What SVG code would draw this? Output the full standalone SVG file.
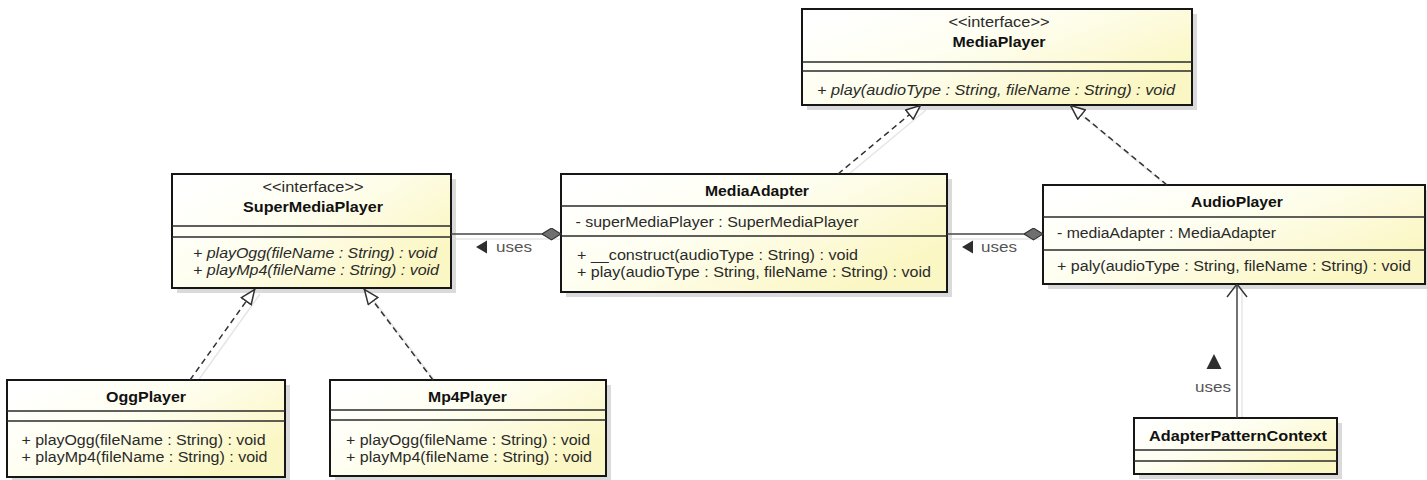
<svg xmlns="http://www.w3.org/2000/svg" width="1427" height="480" viewBox="0 0 1427 480">
  <defs>
    <linearGradient id="boxFill" x1="0.1" y1="0" x2="1" y2="0.6">
      <stop offset="0" stop-color="#ffffff"/>
      <stop offset="0.45" stop-color="#fefef0"/>
      <stop offset="1" stop-color="#fbf7c4"/>
    </linearGradient>
    <marker id="realize" viewBox="0 0 16 14" refX="16" refY="7" markerWidth="16" markerHeight="14" markerUnits="userSpaceOnUse" orient="auto">
      <path d="M1,1 L15.3,7 L1,13 Z" fill="#ffffff" stroke="#333333" stroke-width="1.5" stroke-dasharray="none"/>
    </marker>
    <marker id="diamond" viewBox="0 0 20 13" refX="19.5" refY="6.5" markerWidth="20" markerHeight="13" markerUnits="userSpaceOnUse" orient="auto">
      <path d="M0.5,6.5 L10,0.6 L19.5,6.5 L10,12.4 Z" fill="#6f6f6f" stroke="#333333" stroke-width="1.2"/>
    </marker>
    <marker id="openArrow" viewBox="0 0 14 22" refX="13.5" refY="11" markerWidth="14" markerHeight="22" markerUnits="userSpaceOnUse" orient="auto">
      <path d="M0.5,1 L13.5,11 L0.5,21" fill="none" stroke="#333333" stroke-width="1.4"/>
    </marker>
  </defs>
  <style>
    .shadow { fill: #dadada; }
    .box { fill: url(#boxFill); stroke: #161616; stroke-width: 2; }
    .div { stroke: #2a2a2a; stroke-width: 1.3; }
    .t { font-family: "Liberation Sans", Arial, sans-serif; font-size: 14px; fill: #2a2a2a; }
    .title { font-weight: bold; fill: #111111; text-anchor: middle; }
    .stereo { text-anchor: middle; }
    .abs { font-style: italic; }
    .lbl { fill: #555555; }
    .dash { fill: none; stroke: #333333; stroke-width: 1.5; stroke-dasharray: 6 4; }
    .assoc { fill: none; stroke: #444444; stroke-width: 1.5; }
    .csh { fill: none; stroke: #e6e6e6; stroke-width: 1.5; }
    .tri { fill: #2e2e2e; }
  </style>
  <rect width="1427" height="480" fill="#ffffff"/>

  <!-- soft connector shadows -->
  <g id="connector-shadows" transform="translate(5,5)">
    <path class="csh" d="M190,380 L255,289"/>
    <path class="csh" d="M433,380 L364,289"/>
    <path class="csh" d="M838,174 L921,105"/>
    <path class="csh" d="M1167,185 L1070,105"/>
    <path class="csh" d="M451,234 L561,234"/>
    <path class="csh" d="M947,234 L1043,234"/>
    <path class="csh" d="M1237,418 L1237,284"/>
  </g>

  <g id="MediaPlayer">
    <rect class="shadow" x="807" y="14" width="390" height="96"/>
    <rect class="box" x="802" y="9" width="390" height="96"/>
    <line class="div" x1="802" y1="62" x2="1192" y2="62"/>
    <line class="div" x1="802" y1="71" x2="1192" y2="71"/>
    <text class="t stereo" x="999" y="27" textLength="101" lengthAdjust="spacingAndGlyphs">&lt;&lt;interface&gt;&gt;</text>
    <text class="t title" x="999" y="47" textLength="93" lengthAdjust="spacingAndGlyphs">MediaPlayer</text>
    <text class="t abs" x="817" y="95" textLength="358" lengthAdjust="spacingAndGlyphs">+ play(audioType : String, fileName : String) : void</text>
  </g>

  <g id="SuperMediaPlayer">
    <rect class="shadow" x="177" y="179" width="279" height="114"/>
    <rect class="box" x="172" y="174" width="279" height="114"/>
    <line class="div" x1="172" y1="226" x2="451" y2="226"/>
    <line class="div" x1="172" y1="237" x2="451" y2="237"/>
    <text class="t stereo" x="313" y="192" textLength="101" lengthAdjust="spacingAndGlyphs">&lt;&lt;interface&gt;&gt;</text>
    <text class="t title" x="313" y="212" textLength="140" lengthAdjust="spacingAndGlyphs">SuperMediaPlayer</text>
    <text class="t abs" x="193" y="258" textLength="244" lengthAdjust="spacingAndGlyphs">+ playOgg(fileName : String) : void</text>
    <text class="t abs" x="193" y="275" textLength="246" lengthAdjust="spacingAndGlyphs">+ playMp4(fileName : String) : void</text>
  </g>

  <g id="MediaAdapter">
    <rect class="shadow" x="566" y="179" width="386" height="118"/>
    <rect class="box" x="561" y="174" width="386" height="118"/>
    <line class="div" x1="561" y1="206" x2="947" y2="206"/>
    <line class="div" x1="561" y1="236" x2="947" y2="236"/>
    <text class="t title" x="757" y="196" textLength="104" lengthAdjust="spacingAndGlyphs">MediaAdapter</text>
    <text class="t" x="575.5" y="227" textLength="283" lengthAdjust="spacingAndGlyphs">- superMediaPlayer : SuperMediaPlayer</text>
    <text class="t" x="577" y="260" textLength="281" lengthAdjust="spacingAndGlyphs">+ __construct(audioType : String) : void</text>
    <text class="t" x="577" y="277" textLength="354" lengthAdjust="spacingAndGlyphs">+ play(audioType : String, fileName : String) : void</text>
  </g>

  <g id="AudioPlayer">
    <rect class="shadow" x="1048" y="190" width="382" height="99"/>
    <rect class="box" x="1043" y="185" width="382" height="99"/>
    <line class="div" x1="1043" y1="217" x2="1425" y2="217"/>
    <line class="div" x1="1043" y1="250" x2="1425" y2="250"/>
    <text class="t title" x="1237" y="207" textLength="92" lengthAdjust="spacingAndGlyphs">AudioPlayer</text>
    <text class="t" x="1057" y="238" textLength="219" lengthAdjust="spacingAndGlyphs">- mediaAdapter : MediaAdapter</text>
    <text class="t" x="1057" y="271" textLength="354" lengthAdjust="spacingAndGlyphs">+ paly(audioType : String, fileName : String) : void</text>
  </g>

  <g id="OggPlayer">
    <rect class="shadow" x="12" y="385" width="278" height="97"/>
    <rect class="box" x="7" y="380" width="278" height="97"/>
    <line class="div" x1="7" y1="411" x2="285" y2="411"/>
    <line class="div" x1="7" y1="421" x2="285" y2="421"/>
    <text class="t title" x="146" y="402" textLength="80" lengthAdjust="spacingAndGlyphs">OggPlayer</text>
    <text class="t" x="21.5" y="445" textLength="244" lengthAdjust="spacingAndGlyphs">+ playOgg(fileName : String) : void</text>
    <text class="t" x="21.5" y="462" textLength="246" lengthAdjust="spacingAndGlyphs">+ playMp4(fileName : String) : void</text>
  </g>

  <g id="Mp4Player">
    <rect class="shadow" x="335" y="385" width="276" height="96"/>
    <rect class="box" x="330" y="380" width="276" height="96"/>
    <line class="div" x1="330" y1="410" x2="606" y2="410"/>
    <line class="div" x1="330" y1="420" x2="606" y2="420"/>
    <text class="t title" x="467.5" y="402" textLength="79" lengthAdjust="spacingAndGlyphs">Mp4Player</text>
    <text class="t" x="346" y="445" textLength="244" lengthAdjust="spacingAndGlyphs">+ playOgg(fileName : String) : void</text>
    <text class="t" x="346" y="462" textLength="246" lengthAdjust="spacingAndGlyphs">+ playMp4(fileName : String) : void</text>
  </g>

  <g id="AdapterPatternContext">
    <rect class="shadow" x="1139" y="423" width="203" height="56"/>
    <rect class="box" x="1134" y="418" width="203" height="56"/>
    <line class="div" x1="1134" y1="450" x2="1337" y2="450"/>
    <line class="div" x1="1134" y1="461" x2="1337" y2="461"/>
    <text class="t title" x="1238" y="441" textLength="178" lengthAdjust="spacingAndGlyphs">AdapterPatternContext</text>
  </g>

  <g id="connectors">
    <!-- realizations -->
    <path class="dash" d="M190,380 L255,289" marker-end="url(#realize)"/>
    <path class="dash" d="M433,380 L364,289" marker-end="url(#realize)"/>
    <path class="dash" d="M838,174 L921,105" marker-end="url(#realize)"/>
    <path class="dash" d="M1167,185 L1070,105" marker-end="url(#realize)"/>
    <!-- aggregations -->
    <path class="assoc" d="M451,234 L561,234" marker-end="url(#diamond)"/>
    <path class="assoc" d="M947,234 L1043,234" marker-end="url(#diamond)"/>
    <!-- dependency -->
    <path class="assoc" d="M1237,418 L1237,284" marker-end="url(#openArrow)"/>
    <!-- labels -->
    <polygon class="tri" points="476,247 487,240.5 487,253.5"/>
    <text class="t lbl" x="496" y="252" textLength="36" lengthAdjust="spacingAndGlyphs">uses</text>
    <polygon class="tri" points="962,247 973,240.5 973,253.5"/>
    <text class="t lbl" x="981" y="252" textLength="36" lengthAdjust="spacingAndGlyphs">uses</text>
    <polygon class="tri" points="1214,354 1206.5,369 1221.5,369"/>
    <text class="t lbl" x="1195" y="392" textLength="36" lengthAdjust="spacingAndGlyphs">uses</text>
  </g>
</svg>
